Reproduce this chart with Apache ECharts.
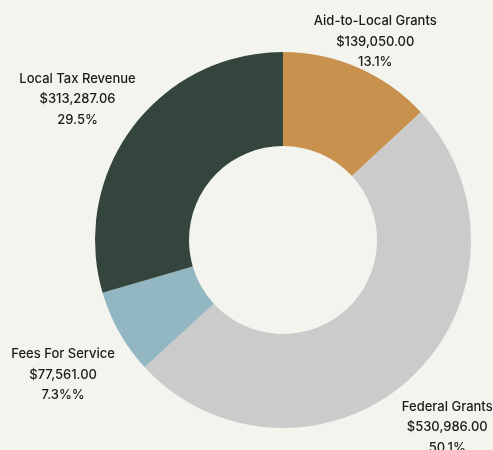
<!DOCTYPE html>
<html>
<head>
<meta charset="utf-8">
<script src="https://cdn.jsdelivr.net/npm/echarts@6/dist/echarts.min.js"></script>
<style>
    html, body { margin: 0; padding: 0; background: #f4f4ef; }
    #chart { width: 493px; height: 450px; }
</style>
</head>
<body>
<div id="chart"></div>
<script>
const categories = ['Aid-to-Local Grants', 'Federal Grants', 'Fees For Service', 'Local Tax Revenue']
const amounts = [139050.00, 530986.00, 77561.00, 313287.06]
const pctLabels = ['13.1%', '50.1%', '7.3%%', '29.5%']
const colors = ['#c8924e', '#cbcbcb', '#93b7c2', '#33453c']
// small nudges so the label blocks sit where the original had them
const labelOffsets = [[-7, 29], [-4, 5], [-4, 13], [-7, 8]]

const money = v => '$' + v.toFixed(2).replace(/\B(?=(\d{3})+(?!\d))/g, ',')

const pieData = categories.map((name, i) => ({ name: name, value: amounts[i] }))

const chart = echarts.init(document.getElementById('chart'))
chart.setOption({
    backgroundColor: '#f4f4ef',
    animation: false,
    series: [
        {
            type: 'pie',
            center: [283, 240],
            radius: [94, 188],
            startAngle: 90,
            clockwise: true,
            silent: true,
            data: pieData.map((d, i) => ({ ...d, itemStyle: { color: colors[i] } })),
            label: { show: false },
            labelLine: { show: false }
        },
        {
            // transparent ring, only used to place the labels
            type: 'pie',
            center: [283, 240],
            radius: [200, 290],
            startAngle: 90,
            clockwise: true,
            silent: true,
            data: pieData.map((d, i) => ({ ...d, label: { offset: labelOffsets[i] } })),
            itemStyle: { color: 'rgba(0,0,0,0)' },
            label: {
                show: true,
                position: 'inside',
                rotate: 0,
                align: 'center',
                color: '#1a1a1a',
                fontFamily: 'Inter',
                fontWeight: 500,
                fontSize: 13,
                lineHeight: 20.5,
                formatter: p => p.name + '\n' + money(amounts[p.dataIndex]) + '\n' + pctLabels[p.dataIndex]
            },
            labelLine: { show: false }
        }
    ]
})
</script>
</body>
</html>
